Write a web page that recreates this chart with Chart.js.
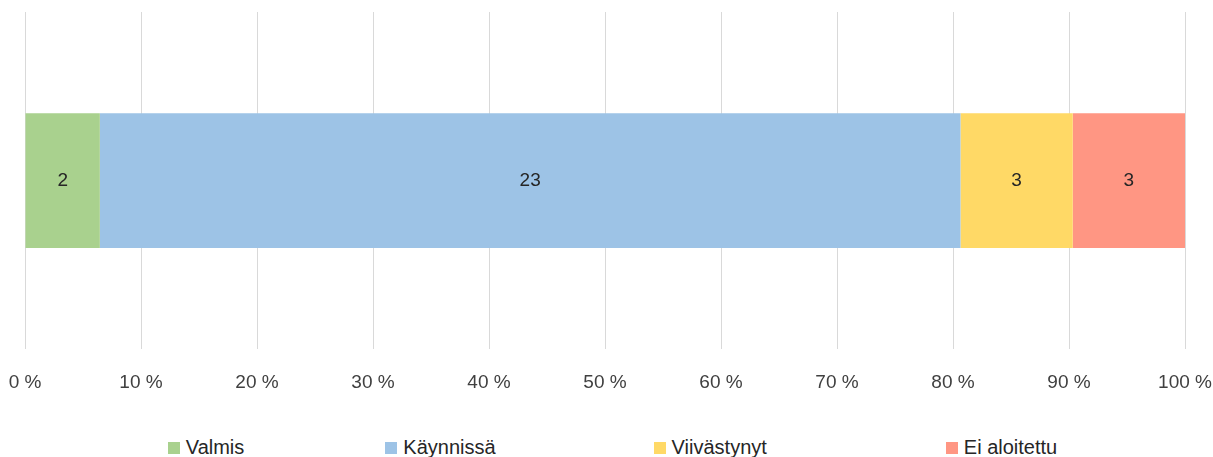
<!DOCTYPE html>
<html lang="fi">
<head>
<meta charset="UTF-8"/>
<title>Tilanne</title>
<script src="https://cdn.jsdelivr.net/npm/chart.js"></script>
<style>
 html,body{margin:0;padding:0;background:#fff;overflow:hidden;width:1213px;height:457px}
 #wrap{position:absolute;left:0;top:0;width:1213px;height:425px}
 #legend{position:absolute;left:0;top:434px;width:1213px;box-sizing:border-box;padding-left:12px;
   display:flex;justify-content:center;
   font-family:'Liberation Sans',sans-serif;font-size:20px;color:#262626;line-height:26px}
 #legend .item{display:flex;align-items:center}
 #legend .item:nth-child(1){margin-right:141px}
 #legend .item:nth-child(2){margin-right:158px}
 #legend .item:nth-child(3){margin-right:179px}
 #legend .box{width:12px;height:12px;margin-right:6px;margin-top:1px}
</style>
</head>
<body>
<div id="wrap"><canvas id="chart"></canvas></div>
<div id="legend"></div>

<script>
const categories = ['Tilanne'];
const statuses = ['Valmis', 'Käynnissä', 'Viivästynyt', 'Ei aloitettu'];
const counts = [2, 23, 3, 3];
const colors = ['#A9D18E', '#9DC3E6', '#FFD966', '#FF9683'];
const xTicks = [0, 10, 20, 30, 40, 50, 60, 70, 80, 90, 100];

const total = counts.reduce((a, b) => a + b, 0);
const FONT = "'Liberation Sans', sans-serif";

// write the count in the middle of each segment
const countLabels = {
  id: 'countLabels',
  afterDatasetsDraw(chart) {
    const ctx = chart.ctx;
    ctx.save();
    ctx.font = '19px ' + FONT;
    ctx.fillStyle = '#262626';
    ctx.textAlign = 'center';
    ctx.textBaseline = 'middle';
    chart.data.datasets.forEach((ds, i) => {
      chart.getDatasetMeta(i).data.forEach(bar => {
        const x = (bar.x + bar.base) / 2;
        ctx.fillText(String(counts[i]), x, bar.y);
      });
    });
    ctx.restore();
  }
};

new Chart(document.getElementById('chart'), {
  type: 'bar',
  data: {
    labels: categories,
    datasets: statuses.map((s, i) => ({
      label: s,
      data: [counts[i] / total * 100],
      backgroundColor: colors[i],
      borderWidth: 0,
      categoryPercentage: 1,
      barPercentage: 0.4
    }))
  },
  options: {
    indexAxis: 'y',
    responsive: true,
    maintainAspectRatio: false,
    animation: false,
    layout: {padding: {left: 25, right: 28, top: 12, bottom: 9}},
    scales: {
      x: {
        stacked: true,
        min: 0,
        max: 100,
        afterBuildTicks(axis) { axis.ticks = xTicks.map(v => ({value: v})); },
        afterFit(axis) { axis.paddingLeft = 0; axis.paddingRight = 0; },
        grid: {color: '#D9D9D9', lineWidth: 1, drawTicks: false},
        border: {display: false},
        ticks: {
          padding: 22,
          color: '#404040',
          font: {family: FONT, size: 19},
          maxRotation: 0,
          callback: v => v + ' %'
        }
      },
      y: {
        stacked: true,
        display: false
      }
    },
    plugins: {
      legend: {display: false},
      tooltip: {enabled: false}
    }
  },
  plugins: [countLabels]
});

// legend below the chart
const legend = document.getElementById('legend');
statuses.forEach((s, i) => {
  const item = document.createElement('div');
  item.className = 'item';
  item.innerHTML = `<span class="box" style="background:${colors[i]}"></span><span>${s}</span>`;
  legend.appendChild(item);
});
</script>
</body>
</html>
